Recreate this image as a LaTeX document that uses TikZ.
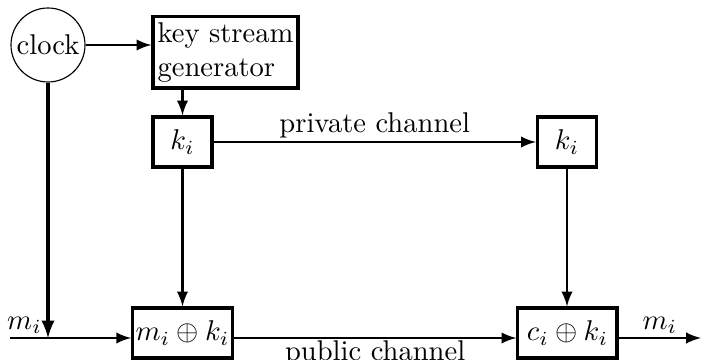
\documentclass[tikz,border=0pt]{standalone}
\usetikzlibrary{arrows,positioning,calc}

\begin{document}
\begin{tikzpicture}[x=0.35pt,y=-0.35pt,>=latex,auto,
  every edge/.style={draw,line width=0.8pt},
  block/.style={draw,rectangle,line width=1.1pt,inner sep=1pt}]

  \useasboundingbox (0,0) rectangle (702,360);

  \node[draw,circle,minimum size=25.9pt,inner sep=0pt,thin] (clock) at (48,45) {clock};
  \node[block,align=left,minimum width=50.8pt,minimum height=24.9pt] (gen) at (225.5,52.5) {key stream\\generator};
  \node[block,minimum width=20.7pt,minimum height=17.5pt] (key1) at (182.5,142) {$k_i$};
  \node[block,minimum width=20.7pt,minimum height=17.5pt] (key2) at (567,142) {$k_i$};
  \node[block,minimum width=34.7pt,minimum height=17.5pt] (enc) at (182.5,333) {$m_i \oplus k_i$};
  \node[block,minimum width=34.7pt,minimum height=17.5pt] (dec) at (567.5,333) {$c_i \oplus k_i$};

  \coordinate (in) at (10,338);
  \coordinate (out) at (701,338);

  \path (clock) edge[->] (gen.west |- clock)
        (key1 |- gen.south) edge[->] (key1)
        (key1) edge[->] node[inner sep=1pt] {private channel} (key2)
        (key1) edge[->] (enc)
        (key2) edge[->] (key2 |- dec.north)
        (clock) edge[->,line width=1.1pt] (clock |- in)
        (in) edge[->] node[pos=0.12,inner sep=1pt] {$m_i$} (in -| enc.west)
        (in -| enc.east) edge[->] node[swap,inner sep=0.5pt] {public channel} (in -| dec.west)
        (in -| dec.east) edge[->] node[inner sep=1pt] {$m_i$} (out)
        ;
\end{tikzpicture}
\end{document}
